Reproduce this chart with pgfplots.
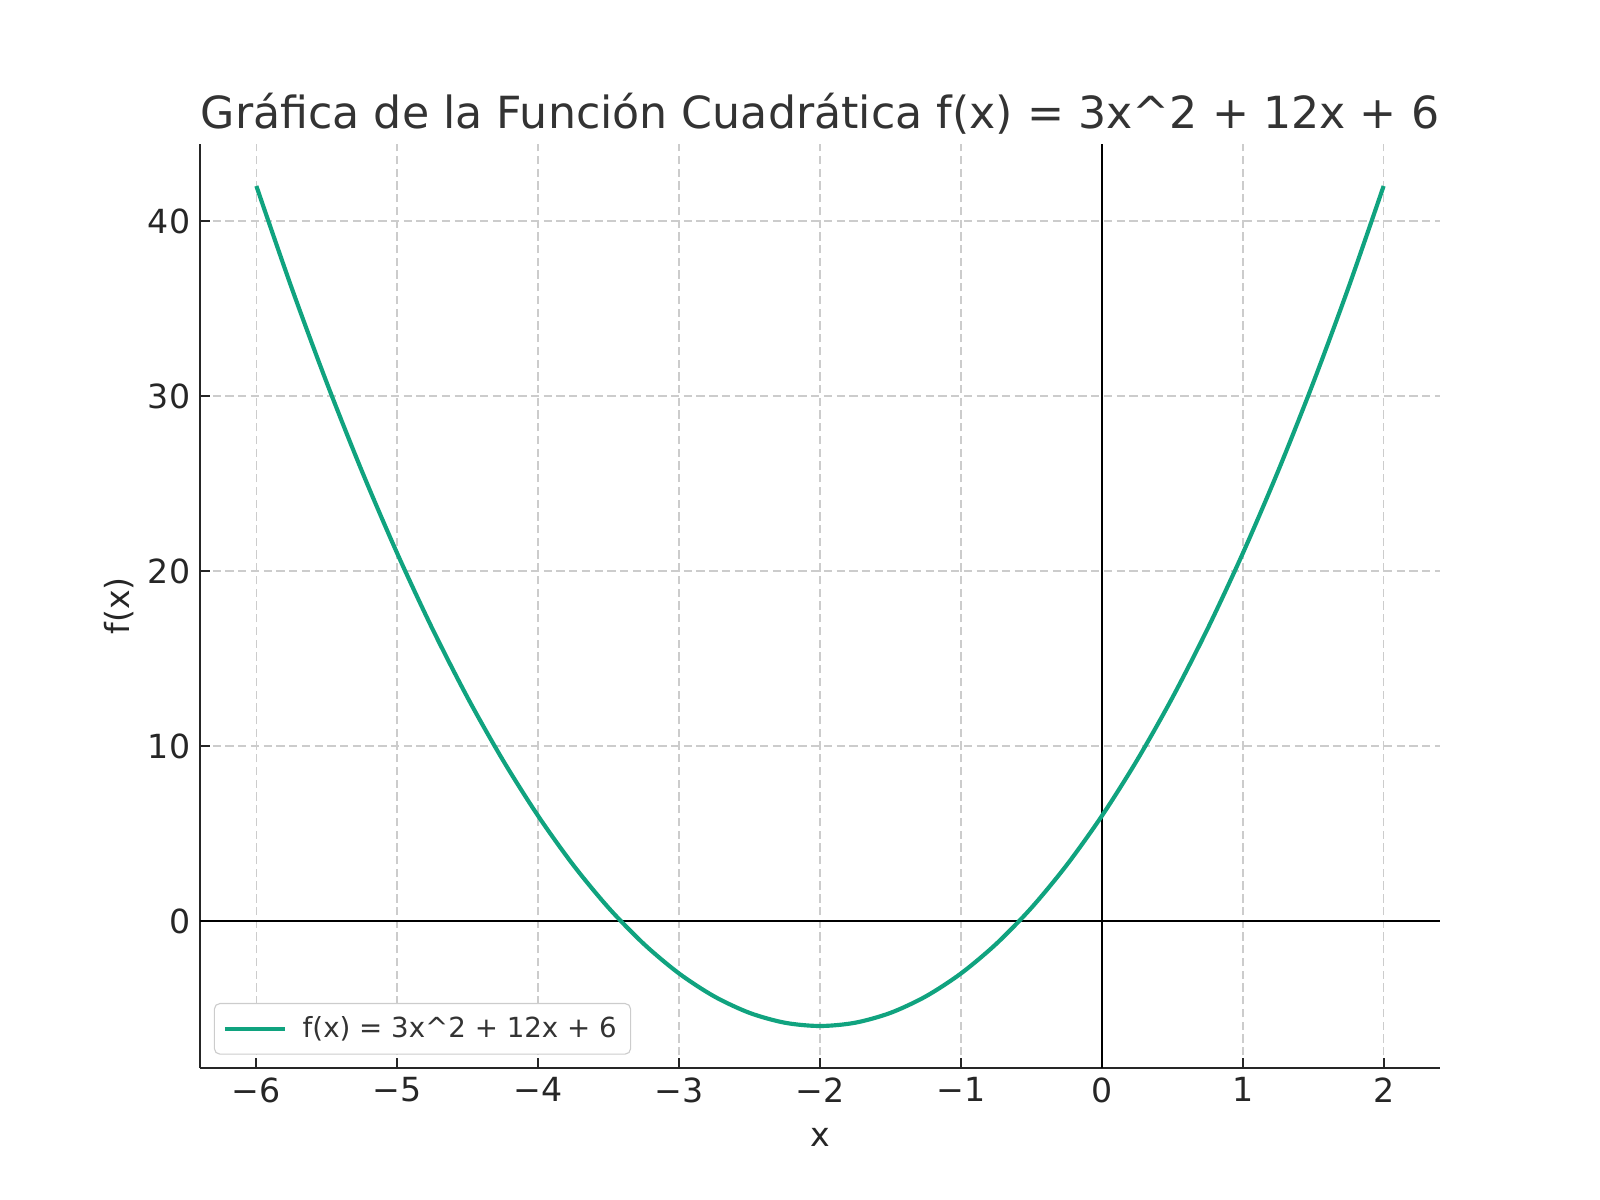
\documentclass[border=0pt]{standalone}
\usepackage{fontspec}
\setmainfont{DejaVu Sans}
\usepackage{pgfplots}
\pgfplotsset{compat=1.18}
\definecolor{curve}{HTML}{10A37F}
\definecolor{txt}{HTML}{262626}
\definecolor{ttl}{HTML}{333333}
\definecolor{gridc}{HTML}{CCCCCC}
\begin{document}
\begin{tikzpicture}
\path[use as bounding box] (-1in,-0.66in) rectangle (7in,5.34in);
\begin{axis}[
  at={(0,0)}, anchor=south west,
  scale only axis, width=6.2in, height=4.62in,
  xmin=-6.4, xmax=2.4, ymin=-8.4, ymax=44.4,
  axis x line*=bottom, axis y line*=left,
  axis line style={line width=1pt, color=txt, -},
  xtick={-6,-5,-4,-3,-2,-1,0,1,2},
  xticklabels={−6,−5,−4,−3,−2,−1,0,1,2},
  ytick={0,10,20,30,40},
  /pgf/number format/assume math mode=true,
  tick align=inside, major tick length=3.5pt,
  tick style={line width=0.8pt, color=txt},
  ticklabel style={font=\fontsize{12}{14}\selectfont, text=txt},
  grid=major,
  grid style={gridc, dashed, line width=0.6pt, dash pattern=on 3pt off 1.6pt},
  title={Gráfica de la Función Cuadrática f(x) = 3x\string^2 + 12x + 6},
  title style={font=\fontsize{16}{19}\selectfont, text=ttl, at={(0.5,1)}, anchor=base, yshift=-0.5pt},
  xlabel={x}, ylabel={f(x)},
  label style={font=\fontsize{12}{14}\selectfont, text=txt},
  xlabel style={yshift=-2.5pt},
  ylabel style={yshift=-1.8pt},
  legend style={at={(rel axis cs:0,0)}, anchor=south west, xshift=5pt, yshift=4.8pt,
    draw=gridc, rounded corners=2pt, font=\fontsize{10}{12}\selectfont, text=ttl,
    inner xsep=3pt, inner ysep=2.6pt},
  legend cell align=left,
  legend image code/.code={\draw[#1, line width=1.5pt] (0cm,0cm) -- (0.76cm,0cm);
    \path[draw=none] (0cm,0cm) -- (0.92cm,0cm);},
]
\addplot[black, line width=0.7pt, forget plot] coordinates {(-6.4,0) (2.4,0)};
\addplot[black, line width=0.7pt, forget plot] coordinates {(0,-8.4) (0,44.4)};
\addplot[curve, line width=1.5pt, smooth] coordinates {
(-6,42) (-5.75,36.1875) (-5.5,30.75) (-5.25,25.6875) (-5,21) (-4.75,16.6875)
(-4.5,12.75) (-4.25,9.1875) (-4,6) (-3.75,3.1875) (-3.5,0.75) (-3.25,-1.3125)
(-3,-3) (-2.75,-4.3125) (-2.5,-5.25) (-2.25,-5.8125) (-2,-6) (-1.75,-5.8125)
(-1.5,-5.25) (-1.25,-4.3125) (-1,-3) (-0.75,-1.3125) (-0.5,0.75) (-0.25,3.1875)
(0,6) (0.25,9.1875) (0.5,12.75) (0.75,16.6875) (1,21) (1.25,25.6875)
(1.5,30.75) (1.75,36.1875) (2,42)
};
\addlegendentry{f(x) = 3x\string^2 + 12x + 6}
\end{axis}
\end{tikzpicture}
\end{document}
